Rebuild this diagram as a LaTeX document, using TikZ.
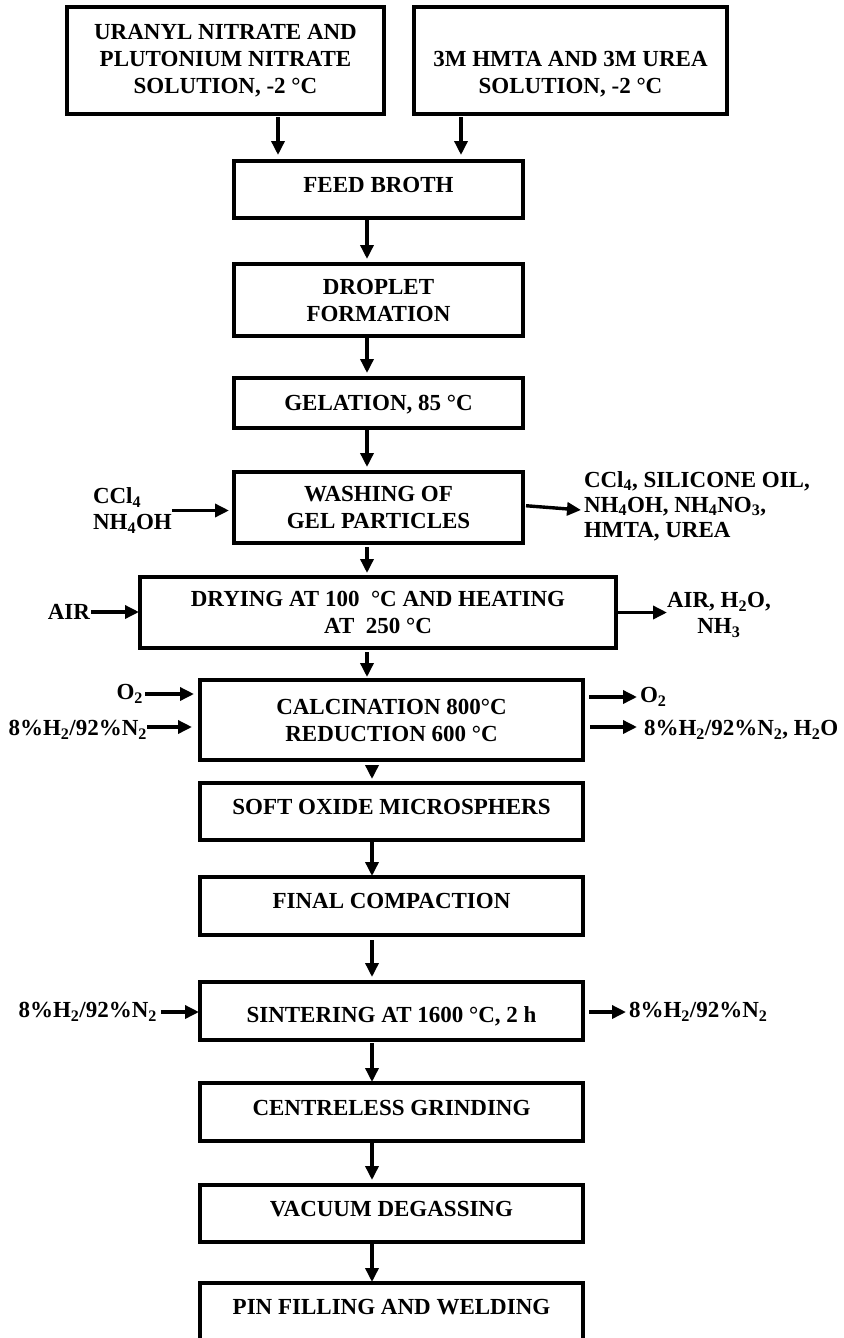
\documentclass[tikz,border=0pt]{standalone}
\usepackage{fontspec}
\setmainfont{Liberation Serif}
\usetikzlibrary{arrows.meta}
\begin{document}
\begin{tikzpicture}[x=1pt,y=-1pt,
  box/.style={draw, line width=3.4pt, inner sep=0pt, outer sep=0pt, align=center,
    font=\bfseries\fontsize{23}{27}\selectfont},
  one/.style={text height=15pt, text depth=#1},
  lbl/.style={inner sep=0pt, outer sep=0pt, font=\bfseries\fontsize{23}{26}\selectfont},
  arr/.style={line width=3.4pt, -{Triangle[width=13pt,length=14pt]}}]
\fill[white] (0,0) rectangle (843,1338);
\useasboundingbox (0,0) rectangle (843,1338);
% helper x positions
\coordinate (ca) at (278,0);
\coordinate (cb) at (461,0);
\coordinate (cu) at (367,0);
\coordinate (cl) at (372,0);
% boxes
\node[box, minimum width=317pt, minimum height=107pt] (A) at (225.5,60.5)
  {URANYL NITRATE AND\\PLUTONIUM NITRATE\\SOLUTION, -2 °C};
\node[box, minimum width=313pt, minimum height=107pt] (B) at (570.5,60.5)
  {\vphantom{A}\\3M HMTA AND 3M UREA\\SOLUTION, -2 °C};
\node[box, one=9pt, minimum width=289pt, minimum height=57pt] (fb) at (378.5,189.5) {FEED BROTH};
\node[box, minimum width=289pt, minimum height=72pt] (dr) at (378.5,300) {DROPLET\\FORMATION};
\node[box, one=0pt, minimum width=289pt, minimum height=50pt] (gel) at (378.5,403) {GELATION, 85 °C};
\node[box, minimum width=289pt, minimum height=71pt] (wash) at (378.5,507.5) {WASHING OF\\GEL PARTICLES};
\node[box, minimum width=476pt, minimum height=71pt] (dry) at (378,612.5)
  {DRYING AT 100\ \ °C AND HEATING\\AT\ \ 250 °C};
\node[box, minimum width=383pt, minimum height=80pt] (calc) at (391.5,720)
  {CALCINATION 800°C\\REDUCTION 600 °C};
\node[box, one=9pt, minimum width=383pt, minimum height=57pt] (soft) at (391.5,811.5) {SOFT OXIDE MICROSPHERS};
\node[box, one=10pt, minimum width=383pt, minimum height=58pt] (fin) at (391.5,906) {FINAL COMPACTION};
\node[box, text height=23pt, text depth=0pt, minimum width=383pt, minimum height=58pt] (sint) at (391.5,1011) {SINTERING AT 1600 °C, 2 h};
\node[box, one=8pt, minimum width=383pt, minimum height=58pt] (cent) at (391.5,1112) {CENTRELESS GRINDING};
\node[box, one=10pt, minimum width=383pt, minimum height=57pt] (vac) at (391.5,1213.5) {VACUUM DEGASSING};
\node[box, one=10pt, minimum width=383pt, minimum height=58pt] (pin) at (391.5,1312) {PIN FILLING AND WELDING};
% side labels
\node[lbl, anchor=west, align=left] (wl) at (93,510.5) {CCl\textsubscript{4}\\NH\textsubscript{4}OH};
\node[lbl, anchor=west, align=left, font=\bfseries\fontsize{23}{25}\selectfont] (wr) at (584,506)
  {CCl\textsubscript{4}, SILICONE OIL,\\NH\textsubscript{4}OH, NH\textsubscript{4}NO\textsubscript{3},\\HMTA, UREA};
\coordinate (wrA) at (581,510);
\node[lbl, anchor=east] (airl) at (90,612) {AIR};
\node[lbl, anchor=west, align=center] (airr) at (667,615) {AIR, H\textsubscript{2}O,\\NH\textsubscript{3}};
\node[lbl, anchor=east] (o2l) at (143,694) {O\textsubscript{2}};
\node[lbl, anchor=east] (hnl) at (147,730) {8\%H\textsubscript{2}/92\%N\textsubscript{2}};
\node[lbl, anchor=west] (o2r) at (640,697) {O\textsubscript{2}};
\node[lbl, anchor=west] (hnr) at (644,730) {8\%H\textsubscript{2}/92\%N\textsubscript{2}, H\textsubscript{2}O};
\node[lbl, anchor=east] (snl) at (157,1012) {8\%H\textsubscript{2}/92\%N\textsubscript{2}};
\node[lbl, anchor=west] (snr) at (629,1012) {8\%H\textsubscript{2}/92\%N\textsubscript{2}};
% main flow arrows
\draw[arr, shorten <=3pt, shorten >=6pt] (A.south -| ca) -- (fb.north -| ca);
\draw[arr, shorten <=3pt, shorten >=6pt] (B.south -| cb) -- (fb.north -| cb);
\draw[arr, shorten >=5pt] (fb.south -| cu) -- (dr.north -| cu);
\draw[arr, shorten >=5pt] (dr.south -| cu) -- (gel.north -| cu);
\draw[arr, shorten <=2pt, shorten >=5pt] (gel.south -| cu) -- (wash.north -| cu);
\draw[arr, shorten <=4pt, shorten >=4pt] (wash.south -| cu) -- (dry.north -| cu);
\draw[arr, shorten <=4pt, shorten >=3pt] (dry.south -| cu) -- (calc.north -| cu);
\draw[arr, shorten <=7pt, shorten >=4pt] (calc.south -| cl) -- (soft.north -| cl);
\draw[arr, shorten <=2pt, shorten >=1pt] (soft.south -| cl) -- (fin.north -| cl);
\draw[arr, shorten <=5pt, shorten >=5pt] (fin.south -| cl) -- (sint.north -| cl);
\draw[arr, shorten <=3pt, shorten >=1pt] (sint.south -| cl) -- (cent.north -| cl);
\draw[arr, shorten <=2pt, shorten >=5pt] (cent.south -| cl) -- (vac.north -| cl);
\draw[arr, shorten <=1pt, shorten >=1pt] (vac.south -| cl) -- (pin.north -| cl);
% side arrows
\draw[arr, shorten >=5pt] (wl.east) -- (wl.east -| wash.west);
\draw[arr, shorten <=3pt] ([yshift=2pt]wash.east) -- (wrA);
\draw[arr, shorten <=1pt, shorten >=1pt] (airl.east) -- (airl.east -| dry.west);
\draw[arr, shorten <=1pt] (dry.east) -- (dry.east -| airr.west);
\draw[arr, shorten <=2pt, shorten >=6pt] (o2l.east) -- (o2l.east -| calc.west);
\draw[arr, shorten >=8pt] ([yshift=3pt]hnl.east) -- ([yshift=3pt]hnl.east -| calc.west);
\draw[arr, shorten <=6pt, shorten >=3pt] (calc.east |- o2r.west) -- (o2r.west);
\draw[arr, shorten <=7pt, shorten >=7pt] ([yshift=3pt]calc.east |- hnr.west) -- ([yshift=3pt]hnr.west);
\draw[arr, shorten <=4pt, shorten >=1pt] (snl.east) -- (snl.east -| sint.west);
\draw[arr, shorten <=6pt, shorten >=3pt] (sint.east |- snr.west) -- (snr.west);
\end{tikzpicture}
\end{document}
